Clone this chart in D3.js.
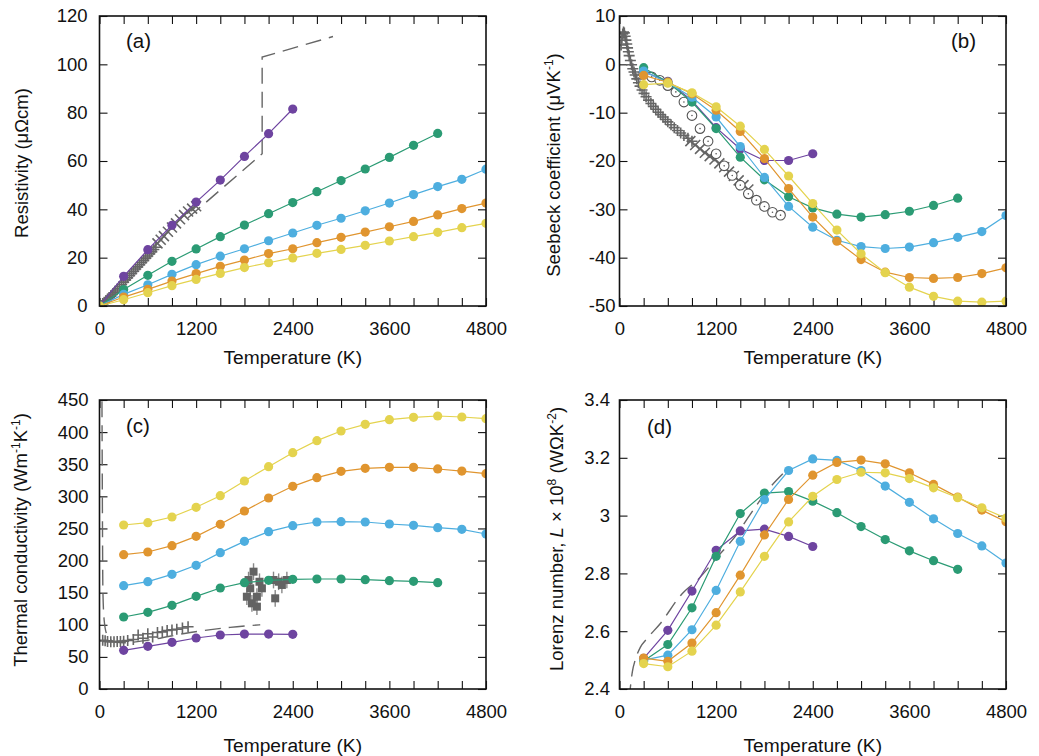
<!DOCTYPE html>
<html><head><meta charset="utf-8">
<script src="https://cdn.jsdelivr.net/npm/d3@7"></script>
<style>
body{margin:0;background:#fff}
text{font-family:"Liberation Sans",Arial,Helvetica,sans-serif;fill:#111}
</style>
</head><body>
<svg id="chart" width="1039" height="756"></svg>
<script>
// ---------- data ----------
const xMajorTicks = [0, 1200, 2400, 3600, 4800];
const xMinorTicks = [300,600,900,1500,1800,2100,2700,3000,3300,3900,4200,4500];
const rhoTicks = [0, 20, 40, 60, 80, 100, 120];
const seebeckTicks = [10, 0, -10, -20, -30, -40, -50];
const kappaTicks = [0, 50, 100, 150, 200, 250, 300, 350, 400, 450];
const lorenzTicks = [2.4, 2.6, 2.8, 3, 3.2, 3.4];

const seriesNames = ["s1", "s2", "s3", "s4", "s5"];
const seriesColors = ["#6e44a0", "#2b9b74", "#4eaedf", "#e0952f", "#e4d34e"];

// temperatures (K)
const tempA1 = [0,300,600,900,1200,1500,1800,2100,2400];
const tempA2 = [0,300,600,900,1200,1500,1800,2100,2400,2700,3000,3300,3600,3900,4200];
const tempA3 = [0,300,600,900,1200,1500,1800,2100,2400,2700,3000,3300,3600,3900,4200,4500,4800];
const temp1 = [300,600,900,1200,1500,1800,2100,2400];
const temp2 = [300,600,900,1200,1500,1800,2100,2400,2700,3000,3300,3600,3900,4200];
const temp3 = [300,600,900,1200,1500,1800,2100,2400,2700,3000,3300,3600,3900,4200,4500,4800];

// (a) resistivity, µΩcm
const rho1 = [0,12.3,23.3,33.4,43.0,52.1,61.9,71.3,81.5];
const rho2 = [0,6.8,12.7,18.5,23.6,28.7,33.5,38.2,42.8,47.3,51.9,56.7,61.5,66.5,71.4];
const rho3 = [0,4.8,8.8,13.1,17.1,20.6,23.7,27.0,30.2,33.4,36.3,39.4,42.6,46.1,49.4,52.4,56.6];
const rho4 = [0,3.7,6.9,10.3,13.4,16.4,19.0,21.7,23.7,26.2,28.4,30.6,32.8,35.0,37.7,40.3,42.6];
const rho5 = [0,2.6,5.5,8.4,11.0,13.5,15.9,17.9,19.9,21.8,23.4,25.1,26.9,28.7,30.5,32.4,34.2];

// (a) experiment
const rhoPlusT = [40,60,80,100,120,140,160,180,200,225,250,275,300,325,350,375,400,425,450,475,500,525,550,575,600,625,650,675,700];
const rhoPlusV = [1.0,1.6,2.2,2.8,3.4,4.1,4.8,5.5,6.2,7.1,8.0,8.9,9.9,10.8,11.7,12.6,13.5,14.4,15.3,16.2,17.1,18.0,18.9,19.8,20.7,21.6,22.5,23.4,24.3];
const rhoCrossT = [720,760,800,850,900,950,1000,1050,1100,1150,1200];
const rhoCrossV = [25.9,27.4,28.9,30.7,32.5,34.2,35.9,37.6,39.1,40.3,41.3];
const rhoDashT = [1100,2020,2020,2900];
const rhoDashV = [36.5,63.0,103.0,111.5];

// (b) Seebeck, µV/K
const see1 = [-1.5,-3.5,-7.5,-13.1,-17.5,-19.9,-19.9,-18.5];
const see2 = [-0.7,-3.7,-7.8,-13.3,-19.2,-23.9,-27.4,-29.7,-31.0,-31.6,-31.1,-30.4,-29.2,-27.7];
const see3 = [-1.4,-3.8,-6.8,-10.9,-17.0,-23.4,-29.4,-33.7,-36.4,-37.7,-38.1,-37.8,-36.9,-35.8,-34.6,-31.3];
const see4 = [-2.3,-3.7,-6.1,-9.5,-13.9,-19.5,-25.7,-31.6,-36.6,-40.4,-43.0,-44.1,-44.3,-44.1,-43.3,-42.1];
const see5 = [-4.2,-3.9,-5.9,-8.8,-12.8,-17.6,-23.1,-28.8,-34.3,-39.2,-43.1,-46.1,-48.0,-49.0,-49.2,-49.0];

const seePlusT = [20,30,40,50,60,70,80,90,100,110,120,135,150,165,180,195,215,235,255,280,305,330,360,390,420,450,480,510,540,570,600,640,680,720,760,800,850,900];
const seePlusV = [4.0,5.5,6.3,6.7,6.5,5.8,5.0,4.2,3.4,2.6,1.8,0.8,-0.1,-0.9,-1.6,-2.2,-3.0,-3.8,-4.5,-5.3,-6.0,-6.7,-7.4,-8.1,-8.7,-9.3,-9.9,-10.4,-10.9,-11.4,-11.9,-12.5,-13.1,-13.7,-14.2,-14.7,-15.3,-15.9];
const seeCrossT = [880,940,1000,1060,1120,1180,1240,1300,1360,1420,1480,1540,1600];
const seeCrossV = [-15.9,-16.7,-17.5,-18.3,-19.0,-19.7,-20.5,-21.3,-22.2,-23.1,-24.0,-25.0,-25.9];
const seeCircT = [300,400,500,600,700,800,900,1000,1100,1200,1300,1400,1500,1600,1700,1800,1900,2000];
const seeCircV = [-2.0,-2.6,-3.3,-4.4,-5.7,-7.8,-10.6,-13.3,-15.9,-18.5,-21.0,-23.0,-25.0,-26.8,-28.1,-29.4,-30.6,-31.2];

// (c) thermal conductivity, W/mK
const kap1 = [60.2,66.4,72.7,79.4,84.1,85.6,85.6,85.1];
const kap2 = [112.1,119.4,130.3,144.3,157.3,165.6,169.2,170.8,171.3,171.3,170.2,168.7,167.6,165.6];
const kap3 = [160.9,167.1,178.5,192.6,212.3,229.9,245.0,254.3,260.0,260.6,260.0,256.9,254.8,251.2,248.6,241.3];
const kap4 = [209.2,213.3,223.2,237.7,256.4,277.2,297.4,315.6,329.1,338.9,343.6,345.2,345.2,342.6,339.4,335.3];
const kap5 = [255.4,259.0,267.8,282.9,301.0,323.9,346.2,368.0,386.7,401.7,412.1,419.4,423.0,425.1,423.5,420.9];

const kapPlusT = [40,70,100,140,180,220,260,300,350,420,480,540,600,660,720,780,840,900,960,1030,1100];
const kapPlusV = [76,75,74,73.5,73.5,74,74,74.5,75.5,77,84,79,86,81,88,89,91,92,93,95,97];
const kapSqT = [1830,1851,1872,1893,1913,1955,1955,1987,2017,2161,2182,2225,2265,2327];
const kapSqV = [143.7,169.7,156.8,133.4,182.7,143.7,128.2,167.0,156.8,169.7,141.2,167.0,162.0,169.7];
const kapSqErr = [13,13,13,13,13,13,13,13,13,13,13,13,13,13];
const kapDashT = [25,30,35,42,58,90,133,200,298,600,1127,1623,1996];
const kapDashV = [560,460,310,154,107,85,77,73,72,76,88,96,100];

// (d) Lorenz number, 1e-8 WΩ/K²
const lor1 = [2.506,2.603,2.739,2.880,2.947,2.953,2.928,2.893];
const lor2 = [2.497,2.554,2.681,2.859,3.007,3.078,3.083,3.050,3.010,2.962,2.917,2.878,2.844,2.814];
const lor3 = [2.500,2.517,2.605,2.741,2.911,3.055,3.156,3.196,3.191,3.156,3.102,3.046,2.989,2.938,2.895,2.836];
const lor4 = [2.507,2.496,2.559,2.664,2.794,2.933,3.056,3.140,3.184,3.192,3.179,3.148,3.108,3.064,3.019,2.979];
const lor5 = [2.488,2.477,2.531,2.621,2.736,2.859,2.978,3.067,3.125,3.150,3.148,3.128,3.096,3.062,3.027,2.991];
const lorDashT = [120,133,160,195,260,340,505,775,982,1210,1459,1624,1831,2039];
const lorDashV = [2.36,2.40,2.46,2.50,2.545,2.574,2.626,2.729,2.781,2.855,2.936,3.004,3.085,3.148];

// ---------- drawing ----------
const svg = d3.select("#chart");
const FS = 18.5;
const FT = 19.2;
const gray = "#666";
const zip = (a, b) => a.map((v, i) => [v, b[i]]);

function makePanel(id, box, yDomain, yTicks, yPad) {
  const [x0, x1, y0, y1] = box;
  const g = svg.append("g");
  const x = d3.scaleLinear().domain([0, 4800]).range([x0, x1]);
  const y = d3.scaleLinear().domain(yDomain).range([y1, y0]);
  const fmt = d => String(d);
  g.append("g").attr("transform", `translate(0,${y1})`)
    .call(d3.axisBottom(x).tickValues(xMajorTicks).tickSize(-8).tickPadding(16).tickFormat(fmt));
  g.append("g").attr("transform", `translate(0,${y1})`)
    .call(d3.axisBottom(x).tickValues(xMinorTicks).tickSize(-8).tickFormat(""));
  g.append("g").attr("transform", `translate(0,${y0})`)
    .call(d3.axisTop(x).tickValues(xMajorTicks.concat(xMinorTicks)).tickSize(-8).tickFormat(""));
  g.append("g").attr("transform", `translate(${x0},0)`)
    .call(d3.axisLeft(y).tickValues(yTicks).tickSize(-8).tickPadding(yPad).tickFormat(fmt));
  g.append("g").attr("transform", `translate(${x1},0)`)
    .call(d3.axisRight(y).tickValues(yTicks).tickSize(-8).tickFormat(""));
  g.selectAll(".domain").remove();
  g.selectAll(".tick line").attr("stroke", "#111").attr("stroke-width", 1.1);
  g.selectAll(".tick text").attr("font-size", FS).attr("fill", "#111")
    .style("font-family", '"Liberation Sans", Arial, sans-serif');
  svg.append("clipPath").attr("id", "clip-" + id)
    .append("rect").attr("x", x0).attr("y", y0).attr("width", x1 - x0).attr("height", y1 - y0);
  const plot = g.append("g").attr("clip-path", `url(#clip-${id})`);
  g.append("rect").attr("x", x0).attr("y", y0)
    .attr("width", x1 - x0).attr("height", y1 - y0)
    .attr("fill", "none").attr("stroke", "#111").attr("stroke-width", 1.6);
  return { g, plot, x, y, box };
}

function dashed(p, T, V, curved) {
  const line = d3.line().x(d => p.x(d[0])).y(d => p.y(d[1]));
  if (curved) line.curve(d3.curveMonotoneX);
  p.plot.append("path").datum(zip(T, V))
    .attr("d", line)
    .attr("fill", "none").attr("stroke", gray).attr("stroke-width", 1.4)
    .attr("stroke-dasharray", "16,8");
}
function plusMarks(p, T, V, s) {
  p.plot.append("g").selectAll("path").data(zip(T, V)).join("path")
    .attr("d", d => {
      const cx = p.x(d[0]), cy = p.y(d[1]);
      return `M${cx - s},${cy}H${cx + s}M${cx},${cy - s}V${cy + s}`;
    }).attr("stroke", gray).attr("stroke-width", 1.6).attr("fill", "none");
}
function crossMarks(p, T, V, s) {
  p.plot.append("g").selectAll("path").data(zip(T, V)).join("path")
    .attr("d", d => {
      const cx = p.x(d[0]), cy = p.y(d[1]);
      return `M${cx - s},${cy - s}L${cx + s},${cy + s}M${cx - s},${cy + s}L${cx + s},${cy - s}`;
    }).attr("stroke", gray).attr("stroke-width", 1.6).attr("fill", "none");
}
function series(p, T, V, color) {
  const pts = zip(T, V);
  p.plot.append("path").datum(pts)
    .attr("d", d3.line().x(d => p.x(d[0])).y(d => p.y(d[1])))
    .attr("fill", "none").attr("stroke", color).attr("stroke-width", 1.2);
  p.plot.append("g").selectAll("circle").data(pts).join("circle")
    .attr("cx", d => p.x(d[0])).attr("cy", d => p.y(d[1])).attr("r", 4.6)
    .attr("fill", color);
}
function label(txt, x, y) {
  svg.append("text").attr("x", x).attr("y", y).attr("font-size", 20.5).text(txt);
}
function xTitle(p, yb) {
  svg.append("text").attr("x", (p.box[0] + p.box[1]) / 2).attr("y", yb)
    .attr("text-anchor", "middle").attr("font-size", FT).text("Temperature (K)");
}
function yTitle(x, yc, parts) {
  const t = svg.append("text").attr("transform", `translate(${x},${yc}) rotate(-90)`)
    .attr("text-anchor", "middle").attr("font-size", FS);
  parts.forEach(pt => {
    const s = t.append("tspan").text(pt.t);
    if (pt.sup) s.attr("font-size", 12).attr("dy", pt.dy);
    else if (pt.dy) s.attr("dy", pt.dy);
    if (pt.it) s.attr("font-style", "italic");
  });
}

// Panel (a)
const pa = makePanel("a", [99.5, 486, 16, 306], [0, 120], rhoTicks, 12);
dashed(pa, rhoDashT, rhoDashV, false);
plusMarks(pa, rhoPlusT, rhoPlusV, 5.5);
crossMarks(pa, rhoCrossT, rhoCrossV, 5);
[[tempA1, rho1], [tempA2, rho2], [tempA3, rho3], [tempA3, rho4], [tempA3, rho5]]
  .forEach((s, i) => series(pa, s[0], s[1], seriesColors[i]));
label("(a)", 126, 48);
xTitle(pa, 363.5);
yTitle(28, 163, [{ t: "Resistivity (μΩcm)" }]);

// Panel (b)
const pb = makePanel("b", [619.5, 1006, 16, 306], [-50, 10], seebeckTicks, 4);
plusMarks(pb, seePlusT, seePlusV, 5.5);
crossMarks(pb, seeCrossT, seeCrossV, 5);
pb.plot.append("g").selectAll("g").data(zip(seeCircT, seeCircV)).join("g")
  .attr("transform", d => `translate(${pb.x(d[0])},${pb.y(d[1])})`)
  .each(function () {
    d3.select(this).append("circle").attr("r", 4.8).attr("fill", "#fff")
      .attr("stroke", "#555").attr("stroke-width", 1.1);
    d3.select(this).append("circle").attr("r", 0.8).attr("fill", "#555");
  });
[[temp1, see1], [temp2, see2], [temp3, see3], [temp3, see4], [temp3, see5]]
  .forEach((s, i) => series(pb, s[0], s[1], seriesColors[i]));
label("(b)", 951, 48);
xTitle(pb, 363.5);
yTitle(560, 165, [{ t: "Seebeck coefficient (μVK" }, { t: "-1", sup: true, dy: -7 }, { t: ")", dy: 7 }]);

// Panel (c)
const pc = makePanel("c", [99.5, 486, 400, 689], [0, 450], kappaTicks, 11);
dashed(pc, kapDashT, kapDashV, true);
plusMarks(pc, kapPlusT, kapPlusV, 5.5);
const sq = zip(kapSqT, kapSqV).map((d, i) => [d[0], d[1], kapSqErr[i]]);
pc.plot.append("g").selectAll("line").data(sq).join("line")
  .attr("x1", d => pc.x(d[0])).attr("x2", d => pc.x(d[0]))
  .attr("y1", d => pc.y(d[1] - d[2])).attr("y2", d => pc.y(d[1] + d[2]))
  .attr("stroke", "#888").attr("stroke-width", 1.4);
pc.plot.append("g").selectAll("rect").data(sq).join("rect")
  .attr("x", d => pc.x(d[0]) - 4).attr("y", d => pc.y(d[1]) - 4)
  .attr("width", 8).attr("height", 8).attr("fill", "#636363");
[[temp1, kap1], [temp2, kap2], [temp3, kap3], [temp3, kap4], [temp3, kap5]]
  .forEach((s, i) => series(pc, s[0], s[1], seriesColors[i]));
label("(c)", 126, 433);
xTitle(pc, 751.5);
yTitle(27, 540, [{ t: "Thermal conductivity (Wm" }, { t: "-1", sup: true, dy: -7 }, { t: "K", dy: 7 },
  { t: "-1", sup: true, dy: -7 }, { t: ")", dy: 7 }]);

// Panel (d)
const pd = makePanel("d", [619.5, 1006, 400, 689], [2.4, 3.4], lorenzTicks, 9.5);
dashed(pd, lorDashT, lorDashV, true);
[[temp1, lor1], [temp2, lor2], [temp3, lor3], [temp3, lor4], [temp3, lor5]]
  .forEach((s, i) => series(pd, s[0], s[1], seriesColors[i]));
label("(d)", 647, 434);
xTitle(pd, 751.5);
yTitle(563, 539, [{ t: "Lorenz number, " }, { t: "L", it: true }, { t: " × 10" },
  { t: "8", sup: true, dy: -7 }, { t: " (WΩK", dy: 7 }, { t: "-2", sup: true, dy: -7 }, { t: ")", dy: 7 }]);
</script>
</body></html>
